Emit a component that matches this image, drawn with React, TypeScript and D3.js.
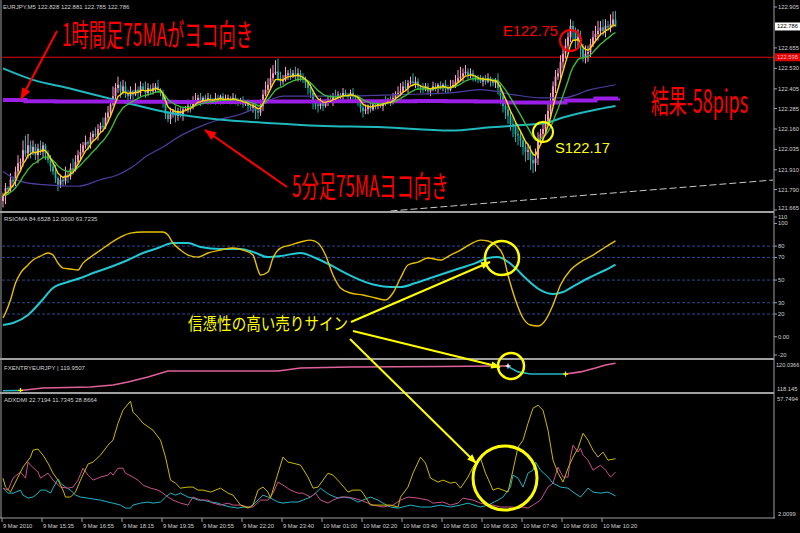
import React, { useLayoutEffect, useRef, useState } from "react";
import * as d3 from "d3";

// ---- EURJPY M5 price data (bar 0 = 9 Mar 2010 14:15) ----
const firstOpen = 121.72;
const closes = [
  121.75, 121.8, 121.79, 121.85, 121.84, 121.9, 121.95, 121.96, 122.03, 122.01,
  122.06, 122.02, 122.05, 122.0, 122.04, 122.02, 122.06, 122.01, 121.97, 121.93,
  121.9, 121.86, 121.82, 121.85, 121.84, 121.88, 121.87, 121.92, 121.91, 121.96,
  122.0, 122.02, 122.06, 122.08, 122.07, 122.11, 122.13, 122.12, 122.16, 122.18,
  122.17, 122.23, 122.26, 122.31, 122.36, 122.41, 122.43, 122.39, 122.42, 122.38,
  122.36, 122.39, 122.37, 122.4, 122.38, 122.42, 122.4, 122.38, 122.41, 122.39,
  122.41, 122.42, 122.4, 122.38, 122.33, 122.25, 122.22, 122.25, 122.27, 122.24,
  122.27, 122.25, 122.28, 122.28, 122.3, 122.29, 122.33, 122.33, 122.35, 122.33,
  122.35, 122.33, 122.35, 122.34, 122.33, 122.35, 122.34, 122.36, 122.33, 122.34,
  122.35, 122.33, 122.35, 122.34, 122.32, 122.33, 122.31, 122.32, 122.3, 122.29,
  122.3, 122.27, 122.26, 122.3, 122.37, 122.4, 122.43, 122.47, 122.5, 122.51,
  122.47, 122.45, 122.46, 122.49, 122.5, 122.48, 122.5, 122.48, 122.5, 122.47,
  122.46, 122.44, 122.41, 122.38, 122.33, 122.31, 122.3, 122.32, 122.3, 122.32,
  122.34, 122.33, 122.36, 122.35, 122.37, 122.36, 122.38, 122.37, 122.36, 122.38,
  122.36, 122.35, 122.34, 122.29, 122.27, 122.28, 122.3, 122.28, 122.31, 122.3,
  122.32, 122.3, 122.33, 122.32, 122.34, 122.32, 122.35, 122.37, 122.38, 122.39,
  122.42, 122.41, 122.44, 122.45, 122.44, 122.45, 122.42, 122.41, 122.4, 122.42,
  122.39, 122.4, 122.42, 122.41, 122.43, 122.41, 122.43, 122.41, 122.4, 122.42,
  122.43, 122.45, 122.47, 122.48, 122.5, 122.51, 122.49, 122.5, 122.48, 122.47,
  122.46, 122.45, 122.47, 122.45, 122.47, 122.45, 122.44, 122.46, 122.41, 122.36,
  122.3, 122.28, 122.24, 122.19, 122.18, 122.13, 122.12, 122.09, 122.05, 122.02,
  122.03, 121.97, 121.95, 121.98, 122.1, 122.13, 122.16, 122.21, 122.27, 122.33,
  122.42, 122.48, 122.5, 122.57, 122.62, 122.67, 122.72, 122.79, 122.76, 122.7,
  122.72, 122.65, 122.6, 122.62, 122.63, 122.68, 122.72, 122.74, 122.76, 122.78,
  122.76, 122.79, 122.78, 122.8, 122.828, 122.786,
];
// wick lengths in pips (0.01 JPY)
const upperWick = [
  2, 3, 1, 4, 2, 3, 5, 2, 6, 9, 7, 3, 4, 2, 3, 5, 2, 1, 2, 3,
  2, 4, 1, 3, 2, 5, 2, 3, 6, 4, 3, 5, 2, 4, 1, 3, 2, 4, 3, 2,
  5, 3, 4, 2, 6, 3, 5, 2, 4, 3, 2, 3, 1, 4, 2, 3, 2, 5, 3, 2,
  3, 2, 4, 1, 2, 3, 2, 4, 1, 3, 2, 3, 1, 2, 4, 2, 3, 5, 2, 3,
  1, 2, 3, 2, 1, 3, 2, 1, 2, 3, 2, 1, 3, 2, 1, 2, 3, 1, 2, 1,
  2, 3, 1, 4, 3, 5, 4, 6, 5, 7, 8, 4, 3, 5, 2, 3, 2, 4, 3, 2,
  3, 2, 1, 3, 2, 1, 2, 3, 2, 1, 2, 3, 2, 4, 2, 1, 3, 2, 1, 2,
  3, 1, 2, 1, 2, 3, 1, 2, 1, 2, 1, 2, 1, 3, 1, 2, 3, 2, 4, 5,
  3, 4, 2, 3, 5, 3, 2, 1, 3, 2, 2, 1, 3, 2, 1, 2, 1, 3, 2, 4,
  3, 4, 5, 6, 3, 4, 2, 3, 2, 1, 2, 3, 1, 2, 3, 1, 2, 1, 4, 2,
  3, 2, 4, 3, 5, 2, 4, 3, 2, 3, 4, 3, 5, 6, 4, 3, 5, 4, 6, 5,
  3, 4, 3, 4, 3, 4, 3, 4, 3, 2, 5, 4, 3, 5, 4, 3, 4, 5, 6, 4,
  5, 4, 3, 6, 5, 5.3,
];
const lowerWick = [
  4, 5, 3, 2, 4, 3, 2, 5, 3, 2, 3, 4, 2, 3, 5, 2, 3, 4, 2, 3,
  2, 3, 4, 2, 3, 2, 4, 2, 3, 1, 2, 3, 1, 2, 4, 3, 2, 1, 3, 2,
  2, 1, 3, 2, 1, 2, 3, 4, 2, 3, 3, 2, 4, 1, 3, 2, 1, 3, 2, 2,
  2, 3, 1, 2, 4, 3, 2, 3, 2, 4, 3, 2, 4, 1, 2, 3, 1, 2, 1, 3,
  2, 1, 2, 3, 1, 2, 1, 3, 2, 1, 1, 2, 1, 3, 2, 1, 2, 1, 3, 2,
  3, 5, 4, 2, 3, 1, 2, 3, 2, 1, 2, 3, 2, 1, 3, 2, 1, 2, 3, 2,
  2, 3, 4, 3, 5, 3, 4, 2, 3, 1, 2, 1, 3, 2, 1, 2, 3, 1, 2, 3,
  2, 3, 4, 3, 4, 2, 3, 2, 1, 2, 2, 1, 3, 2, 1, 2, 1, 2, 1, 2,
  1, 2, 3, 1, 2, 3, 2, 3, 2, 1, 2, 3, 1, 2, 3, 1, 2, 3, 2, 1,
  1, 2, 1, 2, 3, 1, 3, 2, 3, 2, 2, 1, 3, 2, 1, 3, 2, 3, 4, 5,
  4, 6, 5, 4, 7, 5, 6, 4, 5, 6, 5, 6, 6, 5, 4, 3, 5, 4, 3, 4,
  3, 4, 2, 3, 4, 3, 2, 3, 5, 6, 4, 5, 3, 4, 5, 3, 2, 3, 4, 3,
  3, 4, 2, 3, 2, 0.1,
];

// slower moving averages on the price window: [bar, price]
const cyanMA: [number, number][] = [
  [0, 122.53], [12, 122.46], [26, 122.41], [39, 122.36], [52, 122.31], [66, 122.26],
  [79, 122.23], [92, 122.21], [103, 122.2], [126, 122.18], [152, 122.17], [179, 122.15],
  [195, 122.17], [204, 122.18], [218, 122.2], [224, 122.23], [238, 122.28], [245, 122.3],
];
const indigoMA: [number, number][] = [
  [0, 121.9], [7, 121.84], [16, 121.82], [30, 121.81], [39, 121.85], [46, 121.88],
  [52, 121.93], [57, 121.99], [64, 122.05], [70, 122.11], [78, 122.17], [85, 122.21],
  [95, 122.25], [100, 122.28], [112, 122.36], [131, 122.36], [159, 122.37], [179, 122.38],
  [191, 122.4], [204, 122.37], [215, 122.35], [224, 122.35], [235, 122.4], [245, 122.43],
];
// 1-hour 75MA projected on M5 bars (step per hour)
const hourMA: [number, number][] = [
  [0, 122.337], [9, 122.329], [21, 122.328], [33, 122.327], [45, 122.326], [57, 122.326],
  [69, 122.325], [81, 122.325], [93, 122.326], [105, 122.327], [117, 122.328], [129, 122.329],
  [141, 122.33], [153, 122.33], [165, 122.331], [177, 122.33], [189, 122.328], [201, 122.322],
  [213, 122.322], [225, 122.334], [237, 122.346], [246, 122.348],
];

const priceTicks = [122.905, 122.655, 122.53, 122.405, 122.285, 122.16, 122.035, 121.91, 121.79, 121.665];
const bidPrice = 122.786;
const levelPrice = 122.598;
const trendLine: [number, number][] = [[155, 121.659], [308, 121.848]];

// RSIOMA panel
const rsiLine: [number, number][] = [
  [0, 16.5], [1, 21.0], [3, 32.4], [5, 47.4], [7, 56.2], [10, 63.3], [12, 67.7], [15, 71.2],
  [18, 73.9], [20, 72.1], [22, 65.0], [24, 60.6], [27, 59.8], [30, 58.9], [32, 65.0], [35, 70.3],
  [39, 76.5], [43, 82.7], [47, 88.0], [51, 91.5], [56, 92.4], [62, 92.4], [64, 92.4], [66, 89.8],
  [68, 82.7], [71, 76.5], [74, 72.1], [78, 70.3], [82, 73.9], [87, 76.5], [92, 78.3], [96, 76.5],
  [100, 72.1], [102, 58.9], [103, 54.5], [106, 57.1], [108, 69.5], [111, 78.3], [115, 80.9],
  [119, 83.6], [123, 85.3], [126, 82.7], [129, 72.1], [132, 54.5], [135, 43.0], [139, 38.6],
  [144, 36.8], [149, 34.2], [153, 32.4], [156, 38.6], [159, 51.8], [162, 63.3], [166, 65.9],
  [170, 69.5], [175, 67.7], [179, 72.1], [183, 76.5], [187, 81.8], [191, 85.3], [194, 84.5],
  [197, 80.9], [200, 72.1], [202, 54.5], [205, 32.4], [208, 16.5], [211, 10.3], [214, 9.4],
  [217, 14.7], [220, 28.0], [223, 45.6], [227, 58.9], [231, 65.9], [236, 72.1], [241, 79.2],
  [245, 84.65],
];
const rsiSignal: [number, number][] = [
  [0, 10.3], [4, 12.1], [10, 19.2], [15, 30.6], [20, 43.0], [26, 48.3], [31, 51.8], [36, 56.2],
  [43, 61.5], [50, 67.7], [56, 73.9], [62, 78.3], [66, 81.8], [68, 82.7], [74, 82.7], [79, 79.2],
  [87, 77.4], [95, 77.4], [100, 74.8], [106, 70.3], [111, 71.2], [119, 73.9], [125, 69.5],
  [131, 63.3], [137, 56.2], [143, 50.0], [149, 45.6], [155, 43.9], [159, 43.9], [165, 47.4],
  [171, 51.8], [177, 56.2], [183, 60.6], [189, 65.0], [194, 69.5], [198, 70.3], [201, 67.7],
  [205, 60.6], [209, 51.8], [215, 41.2], [220, 37.7], [224, 39.5], [229, 45.6], [235, 52.7],
  [241, 58.9], [245, 63.72],
];
const rsiLevels = [80, 70, 50, 30, 20];
const rsiTicks = [110, 100, 80, 70, 50, 30, 20, 0, -20];

// FXENTRY panel
const fxLine: [number, number][] = [
  [0, 118.16], [7, 118.18], [16, 118.34], [35, 118.41], [44, 118.54], [50, 118.73], [58, 119.06],
  [66, 119.45], [110, 119.45], [119, 119.65], [139, 119.71], [175, 119.74], [197, 119.78],
  [202, 119.78], [203, 119.65], [206, 119.39], [211, 119.25], [219, 119.25], [225, 119.25],
  [231, 119.39], [237, 119.65], [241, 119.84], [245, 119.95],
];
const fxSegments = [
  { from: 0, to: 7, color: "#1fb8c4" },
  { from: 7, to: 202, color: "#e0609c" },
  { from: 202, to: 225, color: "#1fb8c4" },
  { from: 225, to: 245, color: "#e0609c" },
];
const fxMarks = [
  { bar: 7, color: "#ffff00" },
  { bar: 202, color: "#ffffff" },
  { bar: 225, color: "#ffff00" },
];

// ADX / DMI panel
const adxLine: [number, number][] = [
  [0, 19.9], [1, 15.8], [3, 13.5], [6, 20.4], [8, 25.0], [11, 29.6], [12, 32.8], [14, 33.3],
  [16, 30.5], [18, 26.8], [20, 22.2], [22, 19.0], [24, 14.4], [25, 11.2], [27, 11.2], [29, 13.5],
  [31, 19.0], [34, 26.4], [36, 27.3], [39, 30.5], [42, 35.1], [44, 37.4], [46, 45.2], [48, 51.2],
  [51, 55.4], [52, 50.3], [54, 48.0], [56, 45.2], [60, 42.0], [63, 37.4], [65, 29.6], [67, 19.0],
  [69, 17.6], [71, 15.3], [74, 15.8], [76, 15.8], [78, 14.4], [80, 14.4], [83, 13.5], [87, 15.3],
  [90, 13.0], [92, 12.1], [95, 7.5], [98, 6.1], [100, 7.5], [102, 14.4], [104, 15.8], [106, 13.5],
  [107, 10.7], [110, 22.2], [112, 29.6], [114, 27.3], [116, 26.8], [119, 25.9], [122, 20.4],
  [124, 15.3], [126, 15.8], [128, 19.0], [130, 22.2], [132, 21.3], [135, 17.6], [138, 13.5],
  [140, 14.4], [143, 14.4], [144, 13.0], [147, 7.5], [150, 7.5], [155, 7.5], [158, 6.6],
  [159, 11.2], [162, 15.8], [164, 22.2], [167, 29.6], [169, 26.8], [171, 19.9], [174, 18.1],
  [176, 19.0], [179, 17.6], [181, 18.1], [183, 15.3], [186, 20.4], [188, 25.0], [191, 29.1],
  [193, 22.2], [196, 14.4], [198, 15.3], [200, 14.4], [202, 13.5], [204, 23.6], [206, 34.2],
  [208, 37.4], [210, 45.2], [212, 52.1], [214, 53.5], [216, 51.2], [218, 42.0], [220, 28.2],
  [222, 22.2], [224, 18.1], [226, 24.5], [228, 29.6], [230, 33.7], [232, 40.6], [234, 37.4],
  [236, 32.8], [238, 29.6], [240, 31.9], [242, 28.2], [245, 28.87],
];
const plusDI: [number, number][] = [
  [0, 15.3], [2, 14.4], [4, 19.9], [7, 22.7], [9, 19.9], [10, 27.3], [11, 25.9], [14, 22.7],
  [15, 19.9], [18, 22.2], [20, 19.0], [23, 15.8], [26, 15.3], [28, 15.8], [30, 19.0], [32, 24.5],
  [34, 21.3], [36, 19.0], [39, 20.4], [42, 21.3], [43, 22.7], [44, 21.3], [46, 24.5], [48, 24.5],
  [49, 22.2], [52, 20.4], [54, 19.0], [56, 16.7], [59, 15.3], [62, 14.4], [64, 13.0], [66, 11.2],
  [68, 9.8], [71, 8.4], [74, 7.5], [76, 11.2], [79, 9.8], [82, 9.8], [84, 8.4], [87, 7.5],
  [90, 8.4], [92, 7.5], [95, 7.5], [98, 6.6], [100, 6.6], [103, 9.8], [106, 9.8], [108, 13.0],
  [110, 18.1], [112, 16.7], [115, 14.4], [118, 13.0], [120, 13.0], [123, 11.2], [125, 13.0],
  [127, 9.8], [130, 8.4], [132, 9.8], [135, 11.2], [138, 11.2], [140, 10.7], [143, 9.8],
  [146, 8.4], [148, 7.5], [152, 6.6], [156, 7.5], [159, 9.8], [162, 11.2], [166, 10.7],
  [170, 9.8], [172, 8.4], [176, 8.9], [179, 7.5], [182, 8.4], [184, 10.7], [188, 9.8],
  [191, 8.4], [194, 7.5], [196, 7.5], [199, 6.6], [202, 6.6], [204, 6.6], [206, 6.1],
  [208, 6.6], [210, 6.1], [212, 7.5], [215, 9.8], [218, 15.8], [220, 17.6], [222, 25.0],
  [224, 20.4], [226, 20.4], [227, 29.6], [228, 35.1], [230, 31.9], [231, 33.7], [232, 30.5],
  [234, 28.2], [236, 23.6], [239, 25.9], [241, 23.6], [243, 20.4], [245, 22.72],
];
const minusDI: [number, number][] = [
  [0, 15.3], [2, 13.0], [4, 13.0], [7, 14.4], [8, 12.1], [10, 10.7], [12, 11.2], [14, 13.0],
  [15, 14.4], [17, 14.4], [19, 13.0], [20, 15.3], [22, 19.5], [23, 17.6], [25, 15.8], [27, 14.4],
  [29, 12.1], [31, 11.2], [34, 10.7], [36, 10.3], [39, 9.8], [42, 8.9], [44, 8.4], [47, 7.5],
  [49, 6.1], [51, 6.1], [52, 7.5], [55, 8.4], [58, 8.9], [60, 8.4], [63, 8.9], [65, 11.2],
  [67, 13.0], [69, 12.1], [71, 13.0], [74, 11.2], [76, 10.7], [78, 9.8], [80, 9.8], [83, 8.9],
  [86, 8.4], [88, 7.5], [91, 6.6], [94, 6.1], [96, 6.6], [99, 6.6], [102, 9.8], [104, 12.1],
  [107, 10.7], [110, 8.9], [112, 8.4], [115, 8.9], [118, 8.9], [120, 9.8], [123, 11.2],
  [125, 13.0], [127, 15.3], [129, 13.5], [131, 12.1], [134, 10.7], [136, 11.2], [139, 10.7],
  [142, 8.9], [144, 9.8], [147, 11.2], [150, 9.8], [152, 8.4], [155, 6.6], [158, 6.1],
  [163, 7.5], [167, 6.6], [171, 6.6], [175, 7.5], [179, 6.6], [183, 7.5], [186, 8.4],
  [191, 6.6], [194, 7.5], [198, 9.8], [200, 11.2], [203, 15.8], [204, 21.3], [206, 19.9],
  [208, 15.8], [210, 22.2], [212, 23.6], [213, 27.3], [215, 23.6], [218, 20.4], [220, 17.6],
  [223, 15.8], [226, 15.3], [228, 13.5], [231, 11.2], [234, 15.3], [236, 13.5], [239, 13.0],
  [242, 13.5], [245, 11.73],
];

const timeLabels = [
  "9 Mar 2010", "9 Mar 15:35", "9 Mar 16:55", "9 Mar 18:15", "9 Mar 19:35", "9 Mar 20:55",
  "9 Mar 22:20", "9 Mar 23:40", "10 Mar 01:00", "10 Mar 02:20", "10 Mar 03:40", "10 Mar 05:00",
  "10 Mar 06:20", "10 Mar 07:40", "10 Mar 09:00", "10 Mar 10:20",
];
const timeBars = [0, 16, 32, 48, 64, 80, 96, 112, 128, 144, 160, 176, 192, 208, 224, 240];

function ema(values: number[], period: number): number[] {
  const k = 2 / (period + 1);
  const out: number[] = [];
  let prev = values[0];
  values.forEach((v, i) => {
    prev = i === 0 ? v : prev + k * (v - prev);
    out.push(prev);
  });
  return out;
}

const AXIS_X = 774;
const GRID = "#a0a0a0";
const LABEL = "#d0d0d0";
const SMALL_FONT = "'Liberation Sans', Arial, sans-serif";
const JP_FONT = "'Noto Sans CJK JP', sans-serif";

// Text squeezed horizontally to a given width (condensed caption style)
function FitText(props: {
  x: number; y: number; width: number; fontSize: number; fill: string; fontFamily?: string; children: string;
}) {
  const { x, y, width, fontSize, fill, fontFamily, children } = props;
  const ref = useRef<SVGTextElement>(null);
  const [sx, setSx] = useState(0.6);
  useLayoutEffect(() => {
    const el = ref.current;
    if (el) {
      const w = el.getComputedTextLength();
      if (w > 0) setSx(width / w);
    }
  }, [width, children, fontSize]);
  return (
    <text ref={ref} transform={`translate(${x},${y}) scale(${sx},1)`} fontSize={fontSize} fill={fill}
      fontFamily={fontFamily}>{children}</text>
  );
}

export default function App() {
  const n = closes.length;
  const x = d3.scaleLinear().domain([0, n - 1]).range([3, 3 + 2.5 * (n - 1)]);
  const yMain = d3.scaleLinear().domain([121.665, 122.905]).range([210, 7]);
  const yRsi = d3.scaleLinear().domain([0, 80]).range([336.7, 246.1]);
  const yFx = d3.scaleLinear().domain([118.145, 120.0366]).range([391, 362]);
  const yAdx = d3.scaleLinear().domain([2.0099, 57.7494]).range([517, 396]);

  const bars = closes.map((c, i) => {
    const o = i === 0 ? firstOpen : closes[i - 1];
    const h = Math.max(o, c) + upperWick[i] / 100;
    const l = Math.min(o, c) - lowerWick[i] / 100;
    return { i, o, c, h, l };
  });

  const fast = ema(closes, 5);
  const mid = ema(closes, 13);

  const lineFrom = (ys: d3.ScaleLinear<number, number>, curve = d3.curveMonotoneX) =>
    d3.line<[number, number]>().x((d) => x(d[0])).y((d) => ys(d[1])).curve(curve);
  const seriesLine = (vals: number[], ys: d3.ScaleLinear<number, number>) =>
    d3.line<number>().x((_, i) => x(i)).y((v) => ys(v))(vals) || "";

  const smoothMain = lineFrom(yMain);
  const stepMain = lineFrom(yMain, d3.curveStepAfter);
  const smoothRsi = lineFrom(yRsi);
  const fxPath = lineFrom(yFx, d3.curveLinear);
  const adxPath = lineFrom(yAdx, d3.curveLinear);

  const rsiLabelY = (v: number) => Math.min(355, Math.max(217, yRsi(v)));

  return (
    <svg
      width={800}
      height={533}
      style={{ position: "fixed", left: 0, top: 0, background: "#000" }}
      fontFamily={SMALL_FONT}
    >
      <defs>
        <clipPath id="clipMain"><rect x={2} y={1} width={AXIS_X - 2} height={210} /></clipPath>
        <clipPath id="clipRsi"><rect x={2} y={213} width={AXIS_X - 2} height={145} /></clipPath>
        <clipPath id="clipFx"><rect x={2} y={360} width={AXIS_X - 2} height={32} /></clipPath>
        <clipPath id="clipAdx"><rect x={2} y={394} width={AXIS_X - 2} height={123} /></clipPath>
        <marker id="headRed" viewBox="0 0 12 10" refX={11} refY={5} markerWidth={13} markerHeight={10}
          markerUnits="userSpaceOnUse" orient="auto">
          <path d="M0,0.5 L12,5 L0,9.5 z" fill="#ff0000" />
        </marker>
        <marker id="headYellow" viewBox="0 0 12 10" refX={11} refY={5} markerWidth={12} markerHeight={8}
          markerUnits="userSpaceOnUse" orient="auto">
          <path d="M0,0.5 L12,5 L0,9.5 z" fill="#ffff00" />
        </marker>
      </defs>
      <rect x={0} y={0} width={800} height={533} fill="#000" />

      {/* ---------- main price panel ---------- */}
      <g clipPath="url(#clipMain)">
        <line x1={2} x2={AXIS_X} y1={yMain(levelPrice)} y2={yMain(levelPrice)} stroke="#e00000" strokeWidth={1} />
        <line
          x1={x(trendLine[0][0])} y1={yMain(trendLine[0][1])}
          x2={x(trendLine[1][0])} y2={yMain(trendLine[1][1])}
          stroke="#c8c8c8" strokeWidth={1} strokeDasharray="7,3"
        />
        {bars.map((b) => {
          const col = b.c >= b.o ? "#ff9ccc" : "#1fb3a8";
          const top = yMain(Math.max(b.o, b.c));
          const bot = yMain(Math.min(b.o, b.c));
          return (
            <g key={b.i}>
              <line x1={x(b.i)} x2={x(b.i)} y1={yMain(b.h)} y2={yMain(b.l)} stroke={col} strokeWidth={1} />
              <rect x={x(b.i) - 0.9} y={top} width={1.8} height={Math.max(1, bot - top)} fill={col} />
            </g>
          );
        })}
        <path d={smoothMain(indigoMA) || ""} fill="none" stroke="#4b3f9e" strokeWidth={1.2} />
        <path d={smoothMain(cyanMA) || ""} fill="none" stroke="#1fb8bc" strokeWidth={2} />
        <path d={stepMain(hourMA) || ""} fill="none" stroke="#9a1ee6" strokeWidth={4} />
        <path d={seriesLine(mid, yMain)} fill="none" stroke="#3cb83c" strokeWidth={1.4} />
        <path d={seriesLine(fast, yMain)} fill="none" stroke="#ffd400" strokeWidth={1.4} />
      </g>
      <text x={3} y={8.5} fontSize={6} fill={LABEL}>EURJPY,M5  122.828 122.881 122.785 122.786</text>

      {/* ---------- RSIOMA panel ---------- */}
      <g clipPath="url(#clipRsi)">
        {rsiLevels.map((v) => (
          <line key={v} x1={2} x2={AXIS_X} y1={yRsi(v)} y2={yRsi(v)} stroke="#2c4a8c" strokeWidth={1} strokeDasharray="3,2" />
        ))}
        <path d={smoothRsi(rsiSignal) || ""} fill="none" stroke="#22c8d4" strokeWidth={2} />
        <path d={smoothRsi(rsiLine) || ""} fill="none" stroke="#e8c000" strokeWidth={1.4} />
      </g>
      <text x={4} y={221} fontSize={6} fill={LABEL}>RSIOMA 84.6528 12.0000 63.7235</text>

      {/* ---------- FXENTRY panel ---------- */}
      <g clipPath="url(#clipFx)">
        {fxSegments.map((s, k) => (
          <path key={k} d={fxPath(fxLine.filter((d) => d[0] >= s.from && d[0] <= s.to)) || ""}
            fill="none" stroke={s.color} strokeWidth={1.6} />
        ))}
        {fxMarks.map((m, k) => {
          const p = fxLine.find((d) => d[0] === m.bar)!;
          const cx = x(p[0]);
          const cy = yFx(p[1]);
          return (
            <g key={k} stroke={m.color} strokeWidth={1.2}>
              <line x1={cx - 2.5} x2={cx + 2.5} y1={cy} y2={cy} />
              <line x1={cx} x2={cx} y1={cy - 2.5} y2={cy + 2.5} />
            </g>
          );
        })}
      </g>
      <text x={4} y={369.5} fontSize={6} fill={LABEL}>FXENTRYEURJPY |  119.9507</text>

      {/* ---------- ADX DMI panel ---------- */}
      <g clipPath="url(#clipAdx)">
        <path d={adxPath(minusDI) || ""} fill="none" stroke="#1cb4c4" strokeWidth={1} />
        <path d={adxPath(plusDI) || ""} fill="none" stroke="#c8508c" strokeWidth={1} />
        <path d={adxPath(adxLine) || ""} fill="none" stroke="#cdb800" strokeWidth={1} />
      </g>
      <text x={4} y={401.5} fontSize={6} fill={LABEL}>ADXDMI 22.7194 11.7345 28.8664</text>

      {/* ---------- frame and separators ---------- */}
      <line x1={1} x2={1} y1={0} y2={518} stroke={GRID} strokeWidth={1} />
      <line x1={AXIS_X} x2={AXIS_X} y1={0} y2={518} stroke={GRID} strokeWidth={1} />
      {[212, 359, 393].map((yy) => (
        <line key={yy} x1={0} x2={AXIS_X} y1={yy} y2={yy} stroke={GRID} strokeWidth={2} />
      ))}
      <line x1={0} x2={AXIS_X + 1} y1={518} y2={518} stroke={GRID} strokeWidth={1} />

      {/* price axis */}
      {priceTicks.map((p) => (
        <g key={p}>
          <line x1={AXIS_X} x2={AXIS_X + 3} y1={yMain(p)} y2={yMain(p)} stroke={GRID} />
          <text x={778} y={Math.min(yMain(p), 208) + 2} fontSize={5.8} fill={LABEL}>{p.toFixed(3)}</text>
        </g>
      ))}
      <rect x={775} y={yMain(bidPrice) - 4} width={25} height={8} fill="#ffffff" />
      <text x={777} y={yMain(bidPrice) + 2} fontSize={5.8} fill="#000">{bidPrice.toFixed(3)}</text>
      <rect x={775} y={yMain(levelPrice) - 4} width={25} height={8} fill="#e00000" />
      <text x={777} y={yMain(levelPrice) + 2} fontSize={5.8} fill="#ffb4b4">{levelPrice.toFixed(3)}</text>

      {/* RSI axis */}
      {rsiTicks.map((v) => (
        <g key={v}>
          <line x1={AXIS_X} x2={AXIS_X + 3} y1={rsiLabelY(v)} y2={rsiLabelY(v)} stroke={GRID} />
          <text x={778} y={rsiLabelY(v) + 2} fontSize={5.8} fill={LABEL}>{v === 0 ? "0.00" : String(v)}</text>
        </g>
      ))}
      {/* FX axis */}
      <text x={776} y={367} fontSize={5.6} fill={LABEL}>120.0366</text>
      <text x={777} y={391} fontSize={5.8} fill={LABEL}>118.145</text>
      {/* ADX axis */}
      <text x={777} y={401} fontSize={5.8} fill={LABEL}>57.7494</text>
      <text x={778} y={516} fontSize={5.8} fill={LABEL}>2.0099</text>

      {/* time axis */}
      {timeBars.map((b, k) => {
        const tx = Math.max(2, x(b) - 1);
        return (
          <g key={b}>
            <line x1={tx} x2={tx} y1={518} y2={522} stroke={GRID} />
            <text x={tx + 1} y={527.5} fontSize={5.8} fill={LABEL}>{timeLabels[k]}</text>
          </g>
        );
      })}

      {/* ---------- annotations ---------- */}
      <FitText x={62} y={46} width={191} fontSize={31} fill="#ff0000" fontFamily={JP_FONT}>1時間足75MAがヨコ向き</FitText>
      <line x1={57} y1={31} x2={21} y2={99} stroke="#ff0000" strokeWidth={2} markerEnd="url(#headRed)" />

      <FitText x={292} y={197} width={156} fontSize={30} fill="#ff0000" fontFamily={JP_FONT}>5分足75MAヨコ向き</FitText>
      <line x1={287} y1={187} x2={205} y2={130} stroke="#ff0000" strokeWidth={2} markerEnd="url(#headRed)" />

      <FitText x={651} y={113} width={97} fontSize={32} fill="#ff0000" fontFamily={JP_FONT}>結果-58pips</FitText>

      <FitText x={503} y={36} width={55} fontSize={15} fill="#ff0000">E122.75</FitText>
      <circle cx={570.5} cy={40.5} r={10.5} fill="none" stroke="#ff0000" strokeWidth={2} />

      <FitText x={555} y={153} width={55} fontSize={15} fill="#ffff00">S122.17</FitText>
      <circle cx={543} cy={132} r={10} fill="none" stroke="#ffff00" strokeWidth={2} />

      <FitText x={188} y={330} width={160} fontSize={17} fill="#ffff00" fontFamily={JP_FONT}>信憑性の高い売りサイン</FitText>
      <line x1={351} y1={322} x2={490} y2={262} stroke="#ffff00" strokeWidth={2} markerEnd="url(#headYellow)" />
      <line x1={353} y1={331} x2={500} y2={367} stroke="#ffff00" strokeWidth={2} markerEnd="url(#headYellow)" />
      <line x1={350} y1={339} x2={476} y2={463} stroke="#ffff00" strokeWidth={2} markerEnd="url(#headYellow)" />

      <circle cx={502} cy={258} r={17} fill="none" stroke="#ffff00" strokeWidth={2.5} />
      <circle cx={511} cy={366} r={13} fill="none" stroke="#ffff00" strokeWidth={2.5} />
      <circle cx={505} cy={478} r={32} fill="none" stroke="#ffff00" strokeWidth={3} />
    </svg>
  );
}
